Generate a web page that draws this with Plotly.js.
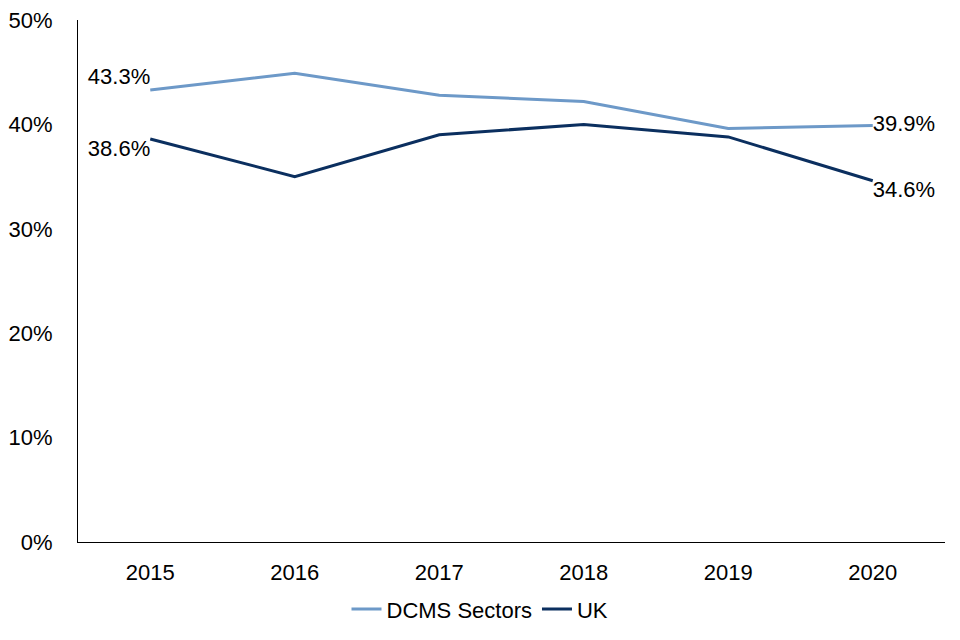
<!DOCTYPE html>
<html><head><meta charset="utf-8">
<script src="https://cdn.plot.ly/plotly-3.0.1.min.js"></script>
<style>body{margin:0;background:#fff}#chart{width:960px;height:640px}</style>
</head><body><div id="chart"></div>
<script>
var years = ['2015','2016','2017','2018','2019','2020'];
var dcms = [43.3, 44.9, 42.8, 42.2, 39.6, 39.9];
var uk = [38.6, 35.0, 39.0, 40.0, 38.8, 34.6];
var dcmsLabels = ['43.3%','','','','','39.9%'];
var ukLabels = ['38.6%','','','','','34.6%'];
var yTicks = [0,10,20,30,40,50];
var yTickText = ['0%','10%','20%','30%','40%','50%'];

var font = {family:'Liberation Sans, Arial, sans-serif', size:22, color:'#000'};
var traces = [
 {x:years, y:dcms, name:'DCMS Sectors', type:'scatter', mode:'lines+text',
  line:{color:'#6d99c8', width:3}, text:dcmsLabels,
  textposition:['top left','middle right','middle right','middle right','middle right','middle right'],
  textfont:font, cliponaxis:false},
 {x:years, y:uk, name:'UK', type:'scatter', mode:'lines+text',
  line:{color:'#0b2f5f', width:3}, text:ukLabels,
  textposition:['bottom left','middle right','middle right','middle right','middle right','bottom right'],
  textfont:font, cliponaxis:false}
];
var layout = {
 width:960, height:640, margin:{l:78, r:15, t:20, b:98, autoexpand:false},
 paper_bgcolor:'#fff', plot_bgcolor:'#fff', font:font,
 showlegend:true,
 legend:{orientation:'h', x:0.5, xanchor:'center', xref:'container', y:0.048, yanchor:'middle', yref:'container', font:font, itemwidth:30, tracegroupgap:0},
 xaxis:{type:'category', range:[-0.5,5.5], showline:true, linecolor:'#000', linewidth:1,
   showgrid:false, ticks:'', tickfont:font, zeroline:false, ticklabelstandoff:11, automargin:false},
 yaxis:{range:[0,50], tickvals:yTicks, ticktext:yTickText, showline:true, linecolor:'#000', linewidth:1,
   showgrid:false, ticks:'', tickfont:font, zeroline:false, ticklabelstandoff:20, automargin:false}
};
Plotly.newPlot('chart', traces, layout, {displayModeBar:false});
</script></body></html>
